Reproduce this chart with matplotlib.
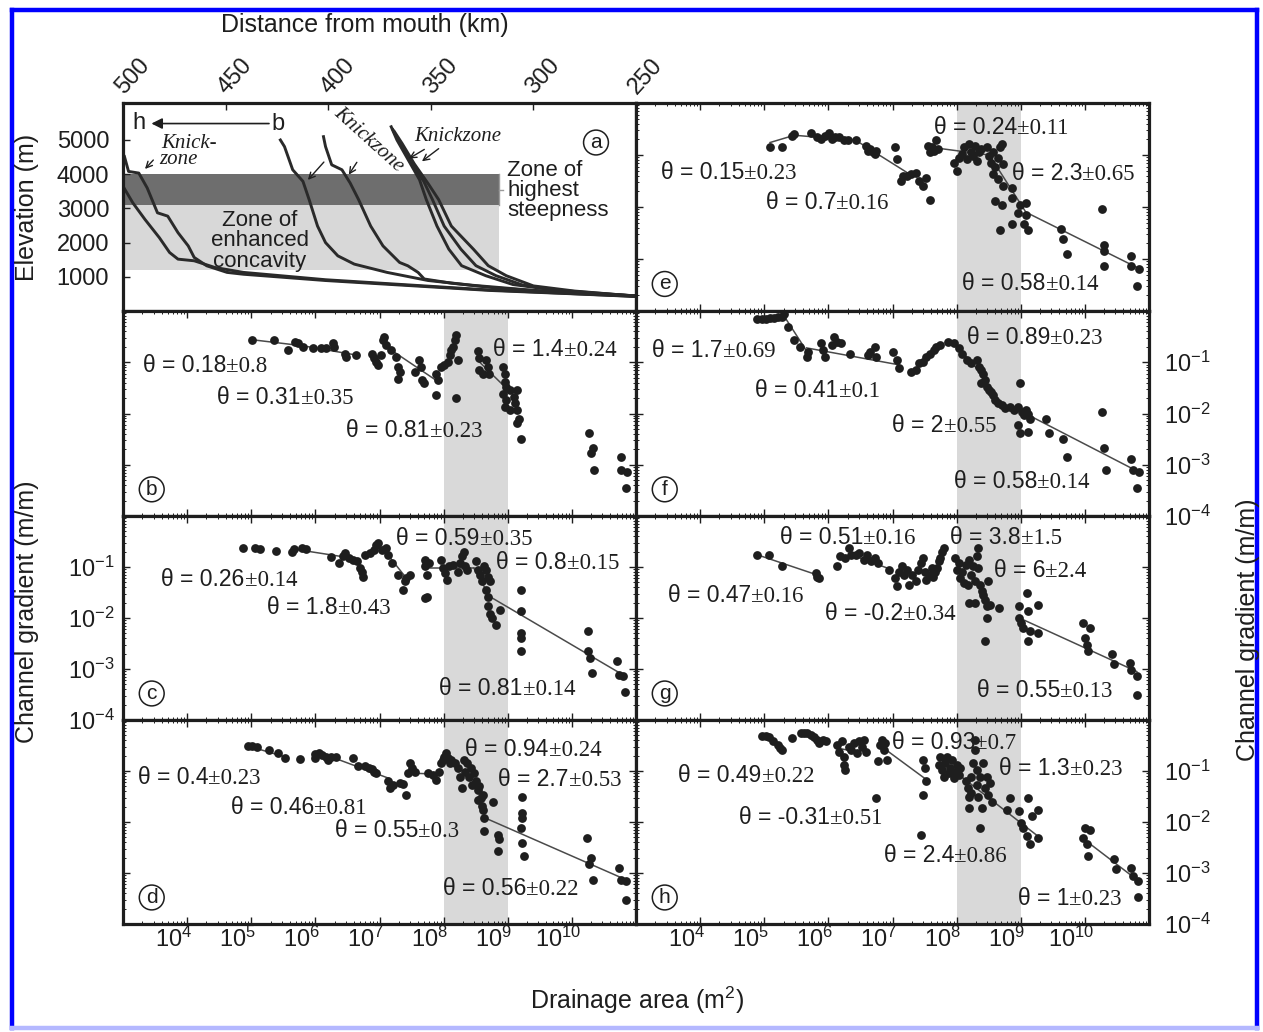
import matplotlib.pyplot as plt
import numpy as np
from matplotlib.lines import Line2D
from matplotlib.patches import Rectangle
from matplotlib.ticker import FixedLocator, FixedFormatter, LogLocator, NullFormatter
from matplotlib.transforms import ScaledTranslation

plt.rcParams['font.family'] = ['Liberation Sans', 'DejaVu Sans']
plt.rcParams['mathtext.fontset'] = 'custom'
plt.rcParams['mathtext.rm'] = 'Liberation Sans'
plt.rcParams['mathtext.it'] = 'Liberation Sans:italic'
plt.rcParams['mathtext.bf'] = 'Liberation Sans:bold'

# ---- panel (a): long profiles, distance from mouth (km) / elevation (m)
profile_1_km = [499.3, 497.3, 492.3, 488.2, 483.2, 478.2, 473.2, 468.2, 465.3, 459.2,
                449.3, 441.3, 401.3, 361.3, 321.2, 281.2, 250]
profile_1_m = [4517, 4082, 4034, 3599, 2874, 2777, 2294, 1907, 1570, 1327,
               1134, 1080, 897, 752, 607, 510, 430]
profile_2_km = [500, 495.2, 489.3, 482.3, 477.3, 473.2, 465.3, 455.3, 441.3, 401.3,
                361.3, 321.2, 281.2, 250]
profile_2_m = [3650, 3164, 2681, 2149, 1715, 1521, 1473, 1279, 1134, 920,
               770, 620, 515, 435]
profile_3_km = [423.3, 421.3, 417.3, 412.3, 409.3, 405.2, 401.3, 395.3, 387.3, 371.3,
                351.3, 330, 300, 270, 250]
profile_3_m = [5000, 4807, 4130, 3792, 3261, 2487, 2004, 1617, 1376, 1134,
               897, 760, 610, 510, 445]
profile_4_km = [402.3, 401.3, 398.3, 393.3, 389.3, 385.2, 379.3, 373.3, 365.2, 361.2,
                356.2, 353.2, 340, 320, 290, 250]
profile_4_m = [5097, 4807, 4275, 4130, 3744, 3261, 2487, 1907, 1424, 1327,
               1134, 942, 820, 690, 560, 440]
profile_5_km = [369.3, 366.5, 361, 355.5, 352.2, 347, 341.2, 335, 323.2, 310, 290, 270, 250]
profile_5_m = [5386, 5000, 4420, 3840, 3261, 2487, 1810, 1330, 1037, 780, 620, 520, 450]
profile_6_km = [368.5, 365.5, 359.8, 353.5, 349.2, 343.5, 335.3, 328, 318.2, 305, 285, 250]
profile_6_m = [5300, 4950, 4350, 3800, 3261, 2487, 1810, 1330, 1037, 760, 600, 445]
profile_7_km = [367.8, 364, 358, 351, 346.2, 340, 329.2, 322, 313.2, 300, 280, 250]
profile_7_m = [5250, 4900, 4300, 3700, 3261, 2487, 1810, 1330, 1037, 740, 590, 440]

steep_zone_m = (3100, 4000)
concave_zone_m = (1200, 3100)
zone_end_km = 317

dist_ticks = [500, 450, 400, 350, 300, 250]
elev_ticks = [1000, 2000, 3000, 4000, 5000]

# ---- panels (b)-(h): log10 drainage area (m2) / log10 channel gradient (m/m)
pts_b = [(5.01, -0.57), (5.35, -0.57), (5.57, -0.76), (5.68, -0.60), (5.73, -0.63), (5.81, -0.70),
         (5.97, -0.73), (6.08, -0.73), (6.16, -0.73), (6.27, -0.63), (6.29, -0.70), (6.46, -0.83),
         (6.48, -0.89), (6.64, -0.86), (6.89, -0.83), (6.91, -0.92), (6.94, -0.99), (6.97, -1.05),
         (7.02, -0.86), (7.05, -0.57), (7.07, -0.50), (7.10, -0.66), (7.18, -0.76), (7.26, -0.89),
         (7.29, -1.09), (7.32, -1.19), (7.29, -1.32), (7.56, -1.19), (7.61, -0.96), (7.64, -1.09),
         (7.67, -1.35), (7.69, -1.41), (7.88, -1.64), (7.91, -1.35), (7.88, -1.22), (7.96, -1.09),
         (8.01, -1.05), (8.07, -0.99), (8.10, -0.86), (8.12, -0.76), (8.15, -0.70), (8.18, -0.57),
         (8.20, -0.47), (8.20, -1.69), (8.23, -0.96), (8.53, -0.79), (8.55, -0.92), (8.55, -1.15),
         (8.61, -1.22), (8.66, -0.96), (8.69, -1.09), (8.71, -1.22), (8.93, -1.09), (8.96, -1.22),
         (8.96, -1.38), (8.98, -1.48), (8.93, -1.61), (8.96, -1.87), (9.04, -1.54), (9.09, -1.67),
         (9.12, -1.80), (9.14, -1.93), (9.17, -2.10), (9.20, -2.49), (9.14, -2.19), (10.27, -2.39),
         (10.33, -2.68), (10.30, -2.78), (10.35, -3.11), (10.76, -2.85), (10.76, -3.11),
         (10.86, -3.14), (10.84, -3.46), (8.98, -1.74), (9.04, -1.93), (9.14, -1.54)]
fits_b = [((5.01, -0.56), (5.81, -0.68)), ((5.81, -0.68), (6.64, -0.86)),
          ((7.18, -0.76), (7.88, -1.35)), ((8.53, -0.96), (8.98, -1.51))]
theta_b = [("0.18", "0.8"), ("0.31", "0.35"), ("0.81", "0.23"), ("1.4", "0.24")]
theta_pos_b = [(3.31, -1.02), (4.47, -1.64), (6.48, -2.29), (8.77, -0.70)]

pts_c = [(4.87, -0.63), (5.06, -0.63), (5.13, -0.65), (5.38, -0.68), (5.64, -0.70), (5.67, -0.65),
         (5.79, -0.63), (5.86, -0.65), (6.24, -0.81), (6.37, -0.92), (6.43, -0.79), (6.46, -0.73),
         (6.53, -0.83), (6.59, -0.86), (6.65, -0.89), (6.69, -1.02), (6.72, -1.09), (6.75, -1.19),
         (6.78, -0.76), (6.85, -0.73), (6.91, -0.66), (6.94, -0.57), (6.97, -0.53), (7.04, -0.66),
         (7.10, -0.63), (7.13, -0.76), (7.20, -0.92), (7.29, -1.15), (7.36, -1.45), (7.39, -1.28),
         (7.42, -1.22), (7.48, -1.15), (7.71, -1.61), (7.74, -1.58), (7.71, -0.86), (7.71, -0.99),
         (7.74, -1.15), (7.77, -0.92), (7.96, -0.86), (7.99, -1.02), (8.02, -1.12), (8.06, -1.25),
         (8.09, -0.99), (8.15, -0.96), (8.22, -1.09), (8.25, -0.92), (8.28, -0.79), (8.31, -0.70),
         (8.34, -0.99), (8.37, -1.05), (8.50, -0.89), (8.53, -1.05), (8.57, -1.15), (8.60, -1.28),
         (8.63, -0.99), (8.66, -1.45), (8.66, -1.05), (8.69, -1.19), (8.69, -1.58), (8.72, -1.28),
         (8.69, -1.77), (8.72, -1.93), (8.76, -2.00), (8.82, -2.13), (8.88, -1.84), (9.20, -1.45),
         (9.20, -1.87), (9.20, -2.29), (9.20, -2.39), (9.20, -2.65), (10.25, -2.26), (10.25, -2.65),
         (10.29, -2.78), (10.32, -3.07), (10.70, -2.85), (10.73, -3.11), (10.79, -3.14),
         (10.83, -3.46)]
fits_c = [((5.67, -0.65), (6.59, -0.83)), ((7.04, -0.62), (7.42, -1.22)),
          ((7.71, -1.02), (8.47, -1.02)), ((8.47, -1.02), (8.72, -1.58)),
          ((8.72, -1.58), (10.83, -3.14))]
theta_c = [("0.59", "0.35"), ("0.26", "0.14"), ("0.8", "0.15"), ("1.8", "0.43"), ("0.81", "0.14")]
theta_pos_c = [(7.26, -0.40), (3.60, -1.19), (8.82, -0.86), (5.25, -1.74), (7.93, -3.33)]

pts_d = [(4.95, -0.51), (5.01, -0.51), (5.09, -0.52), (5.27, -0.59), (5.41, -0.64), (5.52, -0.75),
         (5.76, -0.77), (6.00, -0.75), (6.00, -0.66), (6.05, -0.65), (6.11, -0.68), (6.16, -0.72),
         (6.19, -0.78), (6.24, -0.72), (6.32, -0.72), (6.59, -0.75), (6.67, -0.91), (6.78, -0.90),
         (6.83, -0.94), (6.89, -0.96), (6.91, -1.01), (6.94, -1.04), (7.13, -1.20), (7.16, -1.34),
         (7.21, -1.27), (7.32, -1.24), (7.37, -1.25), (7.42, -1.47), (7.45, -1.04), (7.48, -0.85),
         (7.50, -0.94), (7.56, -1.01), (7.75, -1.04), (7.83, -1.07), (7.88, -1.17), (7.93, -1.01),
         (7.96, -0.85), (7.99, -0.78), (8.01, -0.72), (8.04, -0.65), (8.07, -0.75), (8.10, -0.85),
         (8.12, -0.78), (8.18, -0.85), (8.23, -0.94), (8.26, -1.11), (8.28, -1.34), (8.31, -0.78),
         (8.34, -1.01), (8.36, -0.85), (8.39, -1.11), (8.42, -0.94), (8.44, -1.27), (8.47, -1.04),
         (8.50, -1.20), (8.53, -1.37), (8.55, -1.30), (8.58, -1.53), (8.60, -1.69), (8.61, -1.76),
         (8.63, -1.92), (8.63, -2.18), (8.77, -1.60), (8.85, -2.25), (8.87, -2.34), (8.85, -2.57),
         (9.22, -1.50), (9.22, -1.82), (9.22, -1.92), (9.20, -2.12), (9.22, -2.41), (9.25, -2.67),
         (10.24, -2.31), (10.30, -2.70), (10.27, -2.83), (10.33, -3.13), (10.73, -2.90),
         (10.76, -3.13), (10.84, -3.16), (10.84, -3.52), (8.53, -1.56), (8.61, -1.47)]
fits_d = [((4.95, -0.51), (5.52, -0.72)), ((6.24, -0.72), (7.16, -1.15)),
          ((7.45, -1.04), (7.88, -1.06)), ((8.70, -1.95), (10.84, -3.13))]
theta_d = [("0.94", "0.24"), ("0.4", "0.23"), ("2.7", "0.53"), ("0.46", "0.81"), ("0.55", "0.3"),
           ("0.56", "0.22")]
theta_pos_d = [(8.34, -0.52), (3.23, -1.07), (8.85, -1.11), (4.68, -1.66), (6.30, -2.12),
               (7.99, -3.25)]

pts_e = [(5.09, -0.84), (5.28, -0.84), (5.44, -0.63), (5.47, -0.59), (5.73, -0.58), (5.82, -0.66),
         (5.89, -0.69), (5.95, -0.63), (6.01, -0.58), (6.05, -0.69), (6.11, -0.66), (6.17, -0.66),
         (6.24, -0.72), (6.30, -0.72), (6.43, -0.72), (6.59, -0.82), (6.62, -0.92), (6.65, -0.89),
         (6.69, -0.95), (6.72, -0.98), (6.75, -0.92), (7.04, -0.85), (7.07, -1.08), (7.13, -1.50),
         (7.17, -1.41), (7.23, -1.41), (7.29, -1.37), (7.36, -1.34), (7.42, -1.50), (7.48, -1.60),
         (7.52, -1.44), (7.58, -1.86), (7.55, -0.82), (7.58, -0.95), (7.61, -0.85), (7.64, -0.92),
         (7.68, -0.72), (7.71, -0.89), (7.96, -1.15), (8.00, -1.31), (8.03, -1.05), (8.09, -0.98),
         (8.12, -0.85), (8.16, -1.08), (8.19, -0.79), (8.22, -0.95), (8.25, -1.02), (8.28, -0.82),
         (8.32, -1.11), (8.35, -0.95), (8.38, -0.89), (8.48, -0.85), (8.51, -1.02), (8.54, -1.15),
         (8.57, -0.95), (8.60, -1.24), (8.64, -1.05), (8.67, -0.85), (8.70, -0.79), (8.73, -1.18),
         (8.57, -1.37), (8.64, -1.47), (8.73, -1.60), (8.60, -1.89), (8.70, -1.96), (8.86, -1.63),
         (8.86, -1.83), (8.96, -2.12), (8.99, -1.96), (9.08, -1.93), (9.08, -2.16), (9.05, -2.32),
         (9.12, -2.45), (8.86, -2.32), (8.67, -2.45), (9.63, -2.42), (9.66, -2.61), (9.72, -2.90),
         (10.27, -2.03), (10.30, -2.74), (10.30, -2.84), (10.30, -3.13), (10.72, -2.94),
         (10.72, -3.13), (10.84, -3.20), (10.82, -3.52)]
fits_e = [((5.09, -0.76), (5.47, -0.62)), ((5.47, -0.62), (6.43, -0.72)),
          ((6.43, -0.72), (7.23, -1.34)), ((7.71, -0.87), (8.51, -1.00)),
          ((8.51, -1.00), (9.08, -2.10)), ((9.08, -2.10), (10.84, -3.18))]
theta_e = [("0.24", "0.11"), ("0.15", "0.23"), ("2.3", "0.65"), ("0.7", "0.16"), ("0.58", "0.14")]
theta_pos_e = [(7.64, -0.43), (3.39, -1.28), (8.86, -1.31), (5.02, -1.86), (8.09, -3.42)]

pts_f = [(4.89, -0.16), (4.96, -0.16), (5.02, -0.16), (5.09, -0.14), (5.15, -0.14), (5.21, -0.12),
         (5.28, -0.11), (5.31, -0.06), (5.37, -0.32), (5.47, -0.57), (5.56, -0.70), (5.66, -0.89),
         (5.69, -0.80), (5.89, -0.63), (5.92, -0.76), (5.95, -0.89), (6.05, -0.66), (6.08, -0.50),
         (6.14, -0.60), (6.20, -0.63), (6.33, -0.83), (6.62, -0.86), (6.65, -0.80), (6.72, -0.70),
         (6.75, -0.89), (7.00, -0.80), (7.07, -0.96), (7.10, -1.12), (7.29, -1.19), (7.36, -1.15),
         (7.42, -1.02), (7.48, -0.99), (7.52, -0.89), (7.58, -0.83), (7.64, -0.76), (7.68, -0.70),
         (7.74, -0.66), (7.87, -0.60), (7.96, -0.63), (8.03, -0.73), (8.09, -0.83), (8.16, -0.96),
         (8.22, -1.02), (8.32, -0.96), (8.35, -1.09), (8.38, -1.15), (8.41, -1.22), (8.44, -1.35),
         (8.38, -1.41), (8.48, -1.48), (8.51, -1.54), (8.54, -1.58), (8.57, -1.64), (8.60, -1.74),
         (8.64, -1.80), (8.70, -1.84), (8.76, -1.90), (8.83, -1.87), (8.89, -1.93), (8.96, -1.87),
         (8.99, -1.41), (9.02, -1.97), (9.05, -2.03), (9.08, -1.93), (9.12, -2.00), (9.15, -2.10),
         (8.96, -2.23), (8.99, -2.39), (9.12, -2.36), (9.40, -2.10), (9.44, -2.39), (9.66, -2.49),
         (9.72, -2.85), (10.27, -1.97), (10.30, -2.68), (10.33, -3.11), (10.72, -2.88),
         (10.75, -3.11), (10.84, -3.14), (10.82, -3.46)]
fits_f = [((5.31, -0.10), (5.66, -0.78)), ((5.66, -0.72), (7.10, -1.05)),
          ((7.96, -0.62), (8.44, -1.30)), ((9.15, -2.05), (10.84, -3.14))]
theta_f = [("0.89", "0.23"), ("1.7", "0.69"), ("0.41", "0.1"), ("2", "0.55"), ("0.58", "0.14")]
theta_pos_f = [(8.16, -0.47), (3.25, -0.73), (4.86, -1.51), (7.00, -2.19), (7.96, -3.27)]

pts_g = [(4.89, -0.76), (5.08, -0.76), (5.27, -0.99), (5.81, -1.12), (5.83, -1.19), (5.86, -1.22),
         (6.13, -0.99), (6.18, -0.79), (6.26, -0.83), (6.32, -0.63), (6.35, -0.76), (6.43, -0.76),
         (6.48, -0.73), (6.56, -0.86), (6.61, -0.76), (6.67, -0.89), (6.72, -0.83), (6.78, -0.92),
         (6.94, -1.05), (7.04, -1.22), (7.07, -1.38), (7.10, -1.09), (7.15, -0.99), (7.18, -1.15),
         (7.23, -1.05), (7.26, -1.35), (7.31, -1.15), (7.37, -1.28), (7.39, -1.05), (7.45, -0.92),
         (7.47, -0.83), (7.50, -1.09), (7.53, -1.25), (7.58, -1.15), (7.61, -1.02), (7.63, -1.19),
         (7.66, -1.09), (7.69, -1.02), (7.72, -0.89), (7.74, -0.83), (7.77, -0.70), (7.80, -0.63),
         (7.98, -0.83), (8.01, -1.05), (8.04, -0.92), (8.06, -1.22), (8.09, -1.09), (8.12, -1.32),
         (8.15, -0.96), (8.17, -1.35), (8.20, -0.86), (8.23, -1.15), (8.25, -0.99), (8.28, -1.28),
         (8.31, -0.79), (8.33, -0.63), (8.33, -1.02), (8.36, -1.35), (8.20, -1.71), (8.28, -1.71),
         (8.39, -1.48), (8.41, -1.54), (8.44, -1.64), (8.47, -1.77), (8.49, -1.28), (8.52, -1.74),
         (8.47, -2.00), (8.44, -2.45), (8.66, -1.80), (8.98, -1.77), (8.98, -2.00), (9.01, -2.10),
         (9.03, -2.19), (9.09, -1.51), (9.11, -1.87), (9.14, -2.26), (9.11, -2.45), (9.27, -1.74),
         (9.27, -2.29), (9.97, -2.10), (10.00, -2.39), (10.03, -2.52), (10.05, -2.65),
         (10.08, -2.19), (10.43, -2.71), (10.46, -2.91), (10.70, -2.88), (10.72, -3.01),
         (10.81, -3.14), (10.81, -3.50)]
fits_g = [((4.89, -0.76), (5.86, -1.17)), ((6.35, -0.76), (6.94, -1.03)),
          ((8.98, -2.00), (10.81, -3.05))]
theta_g = [("0.51", "0.16"), ("3.8", "1.5"), ("6", "2.4"), ("0.47", "0.16"), ("-0.2", "0.34"),
           ("0.55", "0.13")]
theta_pos_g = [(5.24, -0.37), (7.90, -0.37), (8.58, -1.02), (3.50, -1.51), (5.94, -1.87),
               (8.31, -3.37)]

pts_h = [(4.97, -0.31), (5.03, -0.31), (5.08, -0.33), (5.14, -0.42), (5.22, -0.49), (5.24, -0.55),
         (5.27, -0.59), (5.43, -0.36), (5.57, -0.25), (5.62, -0.26), (5.67, -0.26), (5.73, -0.29),
         (5.78, -0.33), (5.83, -0.39), (5.86, -0.46), (5.92, -0.39), (5.97, -0.42), (6.13, -0.49),
         (6.16, -0.62), (6.21, -0.42), (6.24, -0.72), (6.24, -0.88), (6.26, -0.98), (6.32, -0.52),
         (6.35, -0.59), (6.40, -0.46), (6.45, -0.65), (6.48, -0.42), (6.53, -0.52), (6.56, -0.39),
         (6.59, -0.62), (6.78, -0.81), (6.80, -0.49), (6.83, -0.39), (6.86, -0.59), (6.88, -0.46),
         (6.91, -0.78), (6.75, -1.53), (7.47, -0.78), (7.50, -0.94), (7.53, -1.20), (7.47, -1.47),
         (7.45, -2.25), (7.72, -0.88), (7.74, -0.72), (7.77, -0.98), (7.80, -1.11), (7.82, -0.85),
         (7.85, -0.72), (7.88, -1.04), (7.90, -0.94), (7.93, -0.78), (7.96, -1.14), (7.98, -1.01),
         (8.01, -0.88), (8.04, -1.07), (8.06, -0.94), (8.15, -1.20), (8.17, -1.34), (8.20, -1.50),
         (8.20, -1.73), (8.23, -1.43), (8.23, -1.11), (8.25, -0.85), (8.28, -0.59), (8.28, -0.39),
         (8.31, -0.98), (8.31, -1.27), (8.33, -1.50), (8.36, -1.11), (8.36, -2.12), (8.39, -1.73),
         (8.41, -0.85), (8.44, -1.34), (8.47, -1.11), (8.49, -1.47), (8.52, -1.24), (8.55, -1.60),
         (8.79, -1.76), (8.84, -1.53), (8.98, -1.79), (9.01, -2.02), (9.03, -2.12), (9.09, -2.28),
         (9.14, -2.44), (9.11, -1.53), (9.17, -1.89), (9.27, -1.76), (9.27, -2.31), (9.97, -2.31),
         (10.00, -2.12), (10.03, -2.44), (10.05, -2.67), (10.08, -2.15), (10.46, -2.73),
         (10.48, -2.93), (10.72, -2.90), (10.75, -3.06), (10.83, -3.16), (10.83, -3.48)]
fits_h = [((6.13, -0.55), (6.35, -0.60)), ((6.86, -0.55), (7.53, -1.17)),
          ((7.96, -1.00), (9.27, -2.28)), ((10.05, -2.40), (10.83, -3.15))]
theta_h = [("0.93", "0.7"), ("0.49", "0.22"), ("1.3", "0.23"), ("-0.31", "0.51"), ("2.4", "0.86"),
           ("1", "0.23")]
theta_pos_h = [(6.99, -0.39), (3.66, -1.04), (8.66, -0.91), (4.60, -1.86), (6.86, -2.60),
               (8.95, -3.45)]

band_area = (1e8, 1e9)
area_ticks = [1e3, 1e4, 1e5, 1e6, 1e7, 1e8, 1e9, 1e10, 1e11]
area_labels = ['', '$10^{4}$', '$10^{5}$', '$10^{6}$', '$10^{7}$', '$10^{8}$', '$10^{9}$',
               '$10^{10}$', '']
grad_ticks = [1e-4, 1e-3, 1e-2, 1e-1, 1]
grad_labels = ['$10^{-4}$', '$10^{-3}$', '$10^{-2}$', '$10^{-1}$', '']

INK = '#1e1e1e'
BAND = '#d9d9d9'
FS = 16.5
TICK_FS = 17

fig = plt.figure(figsize=(12.63, 10.32), dpi=100)
W, H = 1263.0, 1032.0


def box(x0, y0, x1, y1):
    return [x0 / W, 1 - y1 / H, (x1 - x0) / W, (y1 - y0) / H]


def frame(ax):
    for sp in ax.spines.values():
        sp.set_linewidth(2.3)
        sp.set_color(INK)


def theta_label(ax, x, y, val, err):
    t = ax.text(10 ** x, 10 ** y, f"θ = {val}", fontsize=FS, ha='left',
                va='center_baseline', color=INK, zorder=5)
    ax.annotate(f"±{err}", xy=(1, 0), xycoords=t, ha='left', va='bottom',
                fontsize=FS, family='Liberation Serif', color=INK, zorder=5)


def letter(ax, x, y, s):
    ax.text(x, y, s, transform=ax.transAxes, ha='center', va='center', fontsize=15,
            color=INK, zorder=6,
            bbox=dict(boxstyle='circle,pad=0.14', fc='white', ec=INK, lw=1.1))


def gradient_panel(rect, pts, fits, labels, label_pos, name,
                   xlabels=False, ylabels=None):
    ax = fig.add_axes(rect)
    ax.set_xscale('log')
    ax.set_yscale('log')
    ax.set_xlim(1e3, 1e11)
    ax.set_ylim(1e-4, 1)
    ax.axvspan(*band_area, color=BAND, lw=0, zorder=0)
    lx, ly = np.array(pts).T
    ax.scatter(10 ** lx, 10 ** ly, s=40, color=INK, lw=0, zorder=3)
    for (x1, y1), (x2, y2) in fits:
        ax.plot([10 ** x1, 10 ** x2], [10 ** y1, 10 ** y2], color='#4a4a4a', lw=1.1, zorder=2)
    for (px, py), (val, err) in zip(label_pos, labels):
        theta_label(ax, px, py, val, err)
    letter(ax, 0.056, 0.13, name)

    ax.xaxis.set_major_locator(FixedLocator(area_ticks))
    ax.xaxis.set_major_formatter(FixedFormatter(area_labels))
    ax.yaxis.set_major_locator(FixedLocator(grad_ticks))
    ax.yaxis.set_major_formatter(FixedFormatter(grad_labels))
    ax.xaxis.set_minor_locator(LogLocator(base=10, subs=np.arange(2, 10), numticks=20))
    ax.yaxis.set_minor_locator(LogLocator(base=10, subs=np.arange(2, 10), numticks=20))
    ax.xaxis.set_minor_formatter(NullFormatter())
    ax.yaxis.set_minor_formatter(NullFormatter())
    ax.tick_params(which='both', direction='in', top=True, right=True, bottom=True, left=True,
                   color=INK, labelsize=TICK_FS, labelcolor=INK,
                   labelbottom=xlabels, labelleft=(ylabels == 'left'),
                   labelright=(ylabels == 'right'))
    ax.tick_params(which='major', length=5, width=1.0)
    ax.tick_params(which='minor', length=2.5, width=0.7)
    if xlabels:
        ax.tick_params(axis='x', pad=2)
        shift = ScaledTranslation(-10 / 72, 0, fig.dpi_scale_trans)
        for lab in ax.get_xticklabels():
            lab.set_transform(lab.get_transform() + shift)
    if ylabels == 'left':
        ax.tick_params(axis='y', pad=6)
    if ylabels == 'right':
        ax.tick_params(axis='y', pad=11)
    frame(ax)
    return ax


# ---- panel (a)
ax = fig.add_axes(box(123, 103, 636, 311))
ax.set_xlim(500, 250)
ax.set_ylim(7, 6080)
ax.add_patch(Rectangle((zone_end_km, concave_zone_m[0]), 500 - zone_end_km,
                       concave_zone_m[1] - concave_zone_m[0], fc='#d8d8d8', lw=0, zorder=0))
ax.add_patch(Rectangle((zone_end_km, steep_zone_m[0]), 500 - zone_end_km,
                       steep_zone_m[1] - steep_zone_m[0], fc='#6e6e6e', lw=0, zorder=0))
ax.plot([zone_end_km, zone_end_km], steep_zone_m, color='#9a9a9a', lw=1.0, zorder=1)
ax.plot([zone_end_km, zone_end_km - 2], [sum(steep_zone_m) / 2] * 2, color='#9a9a9a', lw=1.0)

profiles = [(profile_1_km, profile_1_m), (profile_2_km, profile_2_m),
            (profile_3_km, profile_3_m), (profile_4_km, profile_4_m),
            (profile_5_km, profile_5_m), (profile_6_km, profile_6_m),
            (profile_7_km, profile_7_m)]
for km, m in profiles:
    ax.plot(km, m, color='#2a2a2a', lw=2.1, zorder=2, solid_joinstyle='round')

ax.text(492.2, 5496, 'h', fontsize=TICK_FS, ha='center', va='center', color=INK)
ax.text(424.5, 5467, 'b', fontsize=TICK_FS, ha='center', va='center', color=INK)
ax.annotate('', xy=(487.5, 5480), xytext=(427.5, 5480),
            arrowprops=dict(arrowstyle='-|>', lw=1.2, color=INK, mutation_scale=16))

serif_it = dict(family='Liberation Serif', style='italic', fontsize=15, color=INK)
ax.text(481.4, 4912, 'Knick-', ha='left', va='center', **serif_it)
ax.text(482.4, 4416, 'zone', ha='left', va='center', **serif_it)
ax.text(380.4, 5000, 'Knickzone', ha='center', va='center', rotation=-42, **serif_it)
ax.text(358.3, 5088, 'Knickzone', ha='left', va='center', **serif_it)
arrow_kw = dict(arrowstyle='->', lw=1.0, color=INK, mutation_scale=11)
for (x0, y0), (x1, y1) in [((484.3, 4474), (490.2, 4095)),
                           ((401.2, 4416), (410.8, 3774)),
                           ((385.3, 4416), (390.7, 3920)),
                           ((345.1, 4796), (355.4, 4328)),
                           ((352.0, 4766), (361.8, 4416))]:
    ax.annotate('', xy=(x1, y1), xytext=(x0, y0), arrowprops=arrow_kw)

ax.text(312.8, 3525, 'Zone of\nhighest\nsteepness', ha='left', va='center',
        fontsize=16, linespacing=0.95, color=INK)
ax.text(433.3, 2051, 'Zone of\nenhanced\nconcavity', ha='center', va='center',
        fontsize=16, linespacing=0.95, color=INK)
letter(ax, 0.922, 0.81, 'a')

ax.xaxis.set_major_locator(FixedLocator(dist_ticks))
ax.yaxis.set_major_locator(FixedLocator(elev_ticks))
ax.tick_params(direction='in', length=5, width=1.0, color=INK, labelsize=TICK_FS,
               labelcolor=INK, top=True, labeltop=True, bottom=False, labelbottom=False,
               left=True, right=False, pad=10)
ax.tick_params(axis='x', pad=3)
plt.setp(ax.get_xticklabels(), rotation=48, ha='center', va='bottom')
shift = ScaledTranslation(7 / 72, 0, fig.dpi_scale_trans)
for lab in ax.get_xticklabels():
    lab.set_transform(lab.get_transform() + shift)
frame(ax)

# ---- panels (b)-(h)
gradient_panel(box(123, 311, 636, 516), pts_b, fits_b, theta_b, theta_pos_b, 'b')
gradient_panel(box(123, 516, 636, 720), pts_c, fits_c, theta_c, theta_pos_c, 'c', ylabels='left')
gradient_panel(box(123, 720, 636, 924), pts_d, fits_d, theta_d, theta_pos_d, 'd', xlabels=True)
gradient_panel(box(636, 103, 1149, 311), pts_e, fits_e, theta_e, theta_pos_e, 'e')
gradient_panel(box(636, 311, 1149, 516), pts_f, fits_f, theta_f, theta_pos_f, 'f', ylabels='right')
gradient_panel(box(636, 516, 1149, 720), pts_g, fits_g, theta_g, theta_pos_g, 'g')
gradient_panel(box(636, 720, 1149, 924), pts_h, fits_h, theta_h, theta_pos_h, 'h',
               xlabels=True, ylabels='right')

# ---- axis titles
fig.text(365 / W, 1 - 25 / H, 'Distance from mouth (km)', ha='center', va='center',
         fontsize=18, color=INK)
fig.text(27 / W, 1 - 207 / H, 'Elevation (m)', rotation=90, ha='center', va='center',
         fontsize=18, color=INK)
fig.text(27 / W, 1 - 612 / H, 'Channel gradient (m/m)', rotation=90, ha='center', va='center',
         fontsize=18, color=INK)
fig.text(1248 / W, 1 - 630 / H, 'Channel gradient (m/m)', rotation=90, ha='center',
         va='center', fontsize=18, color=INK)
fig.text(637 / W, 1 - 1000 / H, 'Drainage area (m$^2$)', ha='center', va='center',
         fontsize=18, color=INK)

# ---- outer blue border
for xs, ys, c in [((12, 12), (10, 1028), '#0000ff'), ((12, 1257), (10, 10), '#0000ff'),
                  ((1257, 1257), (10, 1028), '#0000ff'), ((12, 1257), (1028, 1028), '#b4b8ff')]:
    fig.add_artist(Line2D([x / W for x in xs], [1 - y / H for y in ys], color=c, lw=3.2))

fig.savefig('out.png', dpi=100)
